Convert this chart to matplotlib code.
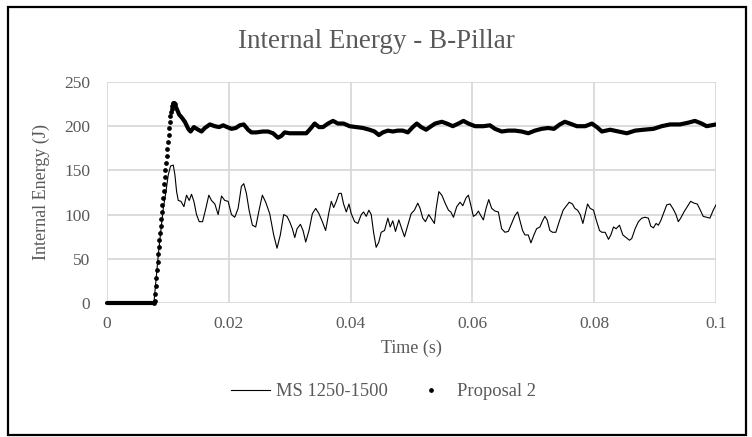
import matplotlib.pyplot as plt
from matplotlib.lines import Line2D
from matplotlib.patches import Rectangle

plt.rcParams['font.family'] = ['Liberation Serif', 'DejaVu Serif']

# MS 1250-1500 (thin line)
ms_time = [0.0, 0.0077, 0.0085, 0.00924, 0.00968, 0.01006, 0.01044, 0.01088, 0.01115, 0.01143,
           0.0117, 0.01214, 0.01263, 0.01306, 0.0135, 0.01388, 0.01427, 0.0147, 0.01514, 0.01569,
           0.01623, 0.01672, 0.01716, 0.01771, 0.01825, 0.0188, 0.01934, 0.01989, 0.02044, 0.02098,
           0.02153, 0.02207, 0.02246, 0.02289, 0.02333, 0.02388, 0.02442, 0.02497, 0.02551, 0.02606,
           0.02672, 0.02737, 0.02792, 0.02846, 0.02901, 0.02956, 0.02999, 0.03044, 0.03083, 0.03121,
           0.03176, 0.03219, 0.03263, 0.03317, 0.03372, 0.03427, 0.03481, 0.03536, 0.0359, 0.03645,
           0.03683, 0.03722, 0.03765, 0.03809, 0.03847, 0.03885, 0.03929, 0.03973, 0.04011, 0.04066,
           0.0412, 0.04175, 0.04213, 0.04257, 0.043, 0.04339, 0.04377, 0.0442, 0.04464, 0.04502,
           0.04557, 0.04612, 0.0465, 0.04693, 0.04737, 0.04792, 0.0483, 0.04885, 0.04939, 0.04994,
           0.05048, 0.05103, 0.05141, 0.05185, 0.05229, 0.05283, 0.05338, 0.05376, 0.05405, 0.05449,
           0.05498, 0.05552, 0.05607, 0.05645, 0.05689, 0.05743, 0.05798, 0.05842, 0.05896, 0.05934,
           0.05973, 0.06016, 0.0606, 0.06098, 0.06137, 0.0618, 0.06224, 0.06268, 0.06317, 0.06371,
           0.06426, 0.0648, 0.06535, 0.0659, 0.06644, 0.06699, 0.06743, 0.06781, 0.06824, 0.06863,
           0.06917, 0.06961, 0.0701, 0.07054, 0.07108, 0.07152, 0.0719, 0.07228, 0.07272, 0.07316,
           0.0737, 0.07425, 0.0749, 0.07545, 0.07589, 0.07643, 0.07682, 0.07727, 0.07771, 0.07814,
           0.07853, 0.07891, 0.07934, 0.07989, 0.08033, 0.08087, 0.08126, 0.0818, 0.08235, 0.08273,
           0.08317, 0.0836, 0.08415, 0.0847, 0.08524, 0.08579, 0.08617, 0.08672, 0.08726, 0.08781,
           0.08835, 0.0889, 0.08928, 0.08972, 0.09016, 0.09054, 0.09092, 0.09136, 0.09191, 0.09245,
           0.093, 0.09343, 0.09381, 0.0942, 0.09474, 0.09529, 0.09583, 0.09638, 0.09692, 0.09736,
           0.0979, 0.09845, 0.099, 0.09955, 0.1]
ms_energy = [0, 0, 60, 107, 126, 145, 155, 156, 145, 126,
             116, 115, 109, 122, 116, 123, 115, 100, 92, 92,
             107, 122, 116, 112, 100, 121, 116, 115, 100, 97,
             107, 132, 135, 124, 105, 88, 86, 105, 122, 114,
             101, 77, 62, 77, 100, 98, 92, 84, 74, 84,
             89, 82, 69, 82, 101, 107, 101, 92, 82, 103,
             115, 108, 115, 124, 124, 112, 103, 112, 101, 92,
             90, 100, 103, 98, 105, 100, 80, 63, 69, 80,
             82, 96, 86, 93, 81, 94, 86, 75, 88, 101,
             105, 113, 107, 96, 92, 100, 94, 90, 107, 126,
             122, 113, 105, 103, 97, 109, 114, 110, 119, 122,
             111, 98, 100, 104, 99, 94, 107, 117, 107, 104,
             103, 84, 80, 81, 90, 99, 103, 93, 82, 77,
             77, 68, 77, 84, 86, 93, 98, 94, 82, 80,
             80, 92, 105, 110, 114, 112, 107, 105, 100, 90,
             101, 112, 107, 105, 94, 82, 80, 80, 72, 77,
             86, 84, 88, 77, 74, 71, 73, 84, 92, 96,
             97, 96, 87, 85, 90, 88, 93, 101, 111, 112,
             106, 100, 92, 96, 103, 109, 115, 113, 112, 106,
             98, 97, 96, 105, 111]

# Proposal 2 (dense points: flat start, dotted ramp, thick plateau)
p2_flat_time = [0.0, 0.0077]
p2_flat_energy = [0, 0]

p2_ramp_time = [0.0077, 0.0078, 0.0079, 0.0080, 0.0081, 0.0082, 0.0083, 0.0084, 0.0085, 0.0086,
                0.0087, 0.0088, 0.0089, 0.0090, 0.0091, 0.0092, 0.0093, 0.0094, 0.0095, 0.0096,
                0.0097, 0.0098, 0.0099, 0.0100, 0.0101, 0.0102, 0.0103, 0.0104, 0.0105, 0.0106,
                0.0107, 0.0108, 0.0109, 0.0110, 0.0111]
p2_ramp_energy = [0, 2, 10, 19, 28, 37, 46, 55, 63, 71,
                  79, 87, 95, 103, 111, 119, 127, 135, 143, 150,
                  158, 166, 174, 182, 190, 198, 205, 211, 216, 220,
                  223, 225, 226, 226, 225]

p2_plat_time = [0.0110, 0.01143, 0.01186, 0.01225, 0.01279, 0.01334, 0.01372, 0.01427, 0.01498, 0.01552,
                0.01607, 0.01689, 0.01771, 0.01842, 0.01907, 0.01973, 0.02044, 0.02115, 0.0218, 0.02246,
                0.02317, 0.02371, 0.02453, 0.02562, 0.02644, 0.02726, 0.02808, 0.02863, 0.02917, 0.02999,
                0.03109, 0.03273, 0.03339, 0.0341, 0.03481, 0.03547, 0.03629, 0.03711, 0.03793, 0.03885,
                0.03984, 0.04093, 0.04202, 0.04311, 0.04393, 0.04464, 0.0453, 0.04612, 0.04693, 0.04775,
                0.04857, 0.04939, 0.05021, 0.05087, 0.05159, 0.0524, 0.05322, 0.05388, 0.05498, 0.0558,
                0.05678, 0.05771, 0.05853, 0.05934, 0.06044, 0.0618, 0.06289, 0.06371, 0.06481, 0.0659,
                0.06699, 0.06808, 0.06917, 0.07026, 0.07136, 0.07245, 0.07338, 0.07436, 0.07518, 0.076,
                0.07716, 0.07853, 0.07962, 0.08044, 0.08126, 0.08262, 0.08399, 0.08535, 0.08672, 0.08808,
                0.08972, 0.09108, 0.09245, 0.09409, 0.09545, 0.09654, 0.09764, 0.09846, 0.1]
p2_plat_energy = [226, 220, 213, 210, 205, 197, 194, 199, 196, 194,
                  198, 202, 200, 199, 201, 199, 197, 198, 201, 202,
                  196, 193, 193, 194, 194, 192, 187, 189, 193, 192,
                  192, 192, 197, 203, 199, 199, 203, 206, 203, 203,
                  200, 199, 198, 196, 194, 190, 193, 195, 194, 195,
                  195, 193, 199, 203, 199, 196, 200, 203, 205, 203,
                  200, 203, 206, 203, 200, 200, 201, 197, 194, 195,
                  195, 194, 192, 195, 197, 198, 197, 202, 205, 203,
                  200, 200, 203, 199, 194, 196, 194, 192, 195, 196,
                  197, 200, 202, 202, 204, 206, 203, 200, 202]

x_ticks = [0, 0.02, 0.04, 0.06, 0.08, 0.1]
x_labels = ["0", "0.02", "0.04", "0.06", "0.08", "0.1"]
y_ticks = [0, 50, 100, 150, 200, 250]

text_col = "#595959"
grid_col = "#d9d9d9"

fig = plt.figure(figsize=(7.52, 4.37), dpi=100)
ax = fig.add_axes([107 / 752, 1 - 303 / 437, 609 / 752, 221 / 437])

ax.plot(ms_time, ms_energy, color="black", lw=0.8, zorder=3)
ax.plot(p2_flat_time, p2_flat_energy, color="black", lw=3.0, solid_capstyle="round",
        clip_on=False, zorder=4)
ax.plot(p2_ramp_time, p2_ramp_energy, ls="none", marker="o", ms=2.4, color="black",
        clip_on=False, zorder=4)
ax.plot(p2_plat_time, p2_plat_energy, color="black", lw=3.0, solid_capstyle="round",
        solid_joinstyle="round", zorder=4)

ax.set_xlim(0, 0.1)
ax.set_ylim(0, 250)
ax.set_xticks(x_ticks)
ax.set_xticklabels(x_labels)
ax.set_yticks(y_ticks)
ax.tick_params(length=0, labelsize=12.5, colors=text_col)
ax.tick_params(axis="x", pad=9)
ax.tick_params(axis="y", pad=12)
ax.grid(True, color=grid_col, lw=1.3)
ax.set_axisbelow(True)
for s in ax.spines.values():
    s.set_visible(False)

ax.set_xlabel("Time (s)", fontsize=13, color=text_col, labelpad=6)
ax.set_ylabel("Internal Energy (J)", fontsize=13, color=text_col, labelpad=10)
fig.text(0.5, 1 - 42 / 437, "Internal Energy - B-Pillar", ha="center", va="center",
         fontsize=19.5, color=text_col)

handles = [Line2D([], [], color="black", lw=0.8),
           Line2D([], [], ls="none", marker="o", ms=2.4, color="black")]
fig.legend(handles, ["MS 1250-1500", "Proposal 2"], loc="center", bbox_to_anchor=(0.51, 1 - 392 / 437),
           ncol=2, frameon=False, fontsize=13.3, labelcolor=text_col, handlelength=2.1,
           columnspacing=1.3, handletextpad=0.35)

fig.patches.append(Rectangle((8 / 752, 2 / 437), 738 / 752, 428 / 437, transform=fig.transFigure,
                             fill=False, edgecolor="black", lw=1.6))

fig.savefig("out.png", dpi=100, facecolor="white")
